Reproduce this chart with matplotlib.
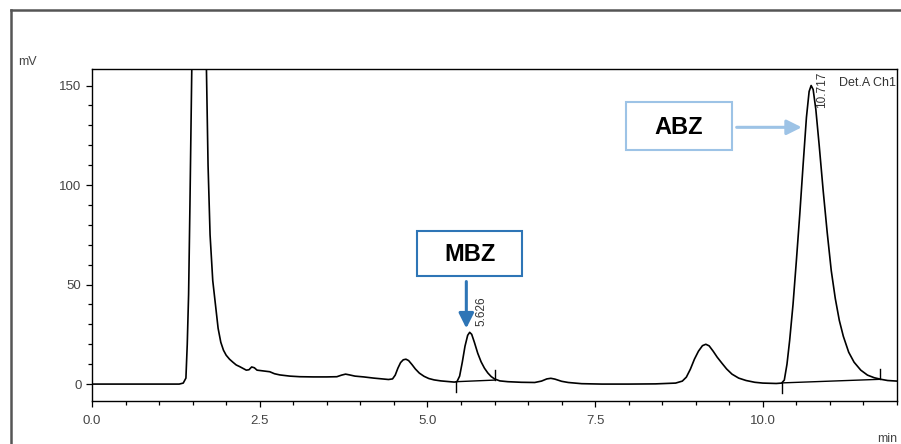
import matplotlib
matplotlib.use("Agg")
import matplotlib.pyplot as plt
from matplotlib.patches import Rectangle
from matplotlib.lines import Line2D
from matplotlib.ticker import MultipleLocator, FormatStrFormatter

plt.rcParams['font.family'] = ['Liberation Sans', 'DejaVu Sans']

# chromatogram trace (min, mV)
time = [0.00, 1.30, 1.36, 1.40, 1.42, 1.44, 1.46, 1.48, 1.50, 1.55, 1.60, 1.66,
        1.70, 1.73, 1.76, 1.80, 1.84, 1.88, 1.92, 1.96, 2.00, 2.05, 2.10, 2.15,
        2.20, 2.25, 2.30, 2.34, 2.38, 2.42, 2.46, 2.55, 2.65, 2.72, 2.80, 2.95,
        3.10, 3.30, 3.50, 3.65, 3.72, 3.78, 3.84, 3.92, 4.05, 4.20, 4.30, 4.42,
        4.48, 4.52, 4.56, 4.60, 4.64, 4.68, 4.72, 4.77, 4.82, 4.88, 4.95, 5.02,
        5.10, 5.20, 5.30, 5.40, 5.44, 5.48, 5.52, 5.56, 5.60, 5.63, 5.66, 5.70,
        5.75, 5.80, 5.85, 5.90, 5.95, 6.00, 6.08, 6.20, 6.40, 6.60, 6.70, 6.78,
        6.84, 6.90, 7.00, 7.10, 7.30, 7.60, 8.00, 8.40, 8.70, 8.80, 8.86, 8.92,
        8.98, 9.04, 9.10, 9.15, 9.20, 9.26, 9.32, 9.39, 9.46, 9.54, 9.64, 9.75,
        9.88, 10.00, 10.20, 10.28, 10.32, 10.36, 10.40, 10.45, 10.50, 10.55,
        10.60, 10.65, 10.69, 10.72, 10.75, 10.79, 10.84, 10.90, 10.96, 11.02,
        11.08, 11.14, 11.20, 11.28, 11.36, 11.46, 11.56, 11.66, 11.76, 11.86,
        12.00]
signal = [0, 0, 0.5, 3, 20, 45, 90, 140, 190, 300, 330, 280,
          170, 110, 75, 52, 40, 28, 21, 17, 14.5, 12.5, 11, 9.6,
          8.8, 7.9, 7.0, 7.2, 8.6, 8.2, 7.0, 6.6, 6.2, 5.2, 4.6, 4.0,
          3.7, 3.6, 3.6, 3.7, 4.5, 5.0, 4.6, 4.0, 3.6, 3.0, 2.7, 2.3,
          2.6, 4.5, 8, 10.8, 12.2, 12.5, 11.8, 9.8, 7.6, 5.5, 3.9, 2.8,
          2.1, 1.6, 1.3, 1.0, 1.2, 4, 11, 19, 24.5, 26, 25, 21,
          15.5, 11.2, 8.0, 5.6, 3.8, 2.6, 1.6, 1.2, 0.9, 0.8, 1.5, 2.6,
          2.9, 2.5, 1.4, 0.8, 0.2, 0, 0, 0.1, 0.5, 1.5, 3.5, 7.5,
          12.5, 16.5, 19.3, 20, 19.2, 16.5, 13.5, 10.5, 7.6, 5.0, 3.0, 1.8,
          0.9, 0.5, 0.3, 0.5, 2, 10, 22, 40, 62, 85,
          110, 134, 147, 150, 148, 138, 120, 97, 76, 57,
          43, 32, 24, 16, 11, 7, 4.5, 3.2, 2.4, 1.8,
          1.5]

# integration baselines: (t start, mV start, t end, mV end)
baselines = [(5.43, 1.2, 6.00, 2.0), (10.29, 0.6, 11.75, 2.4)]
peak_rt = [5.626, 10.717]
peak_mv = [26, 150]

fig = plt.figure(figsize=(9.01, 4.44), dpi=100)
ax = fig.add_axes([92/901, 1-401/444, 805/901, 332/444])

ax.plot(time, signal, color='black', lw=1.2)
for t0, y0, t1, y1 in baselines:
    ax.plot([t0, t1], [y0, y1], color='black', lw=1.0)
    ax.plot([t0, t0], [y0, y0 - 5], color='black', lw=1.0)
    ax.plot([t1, t1], [y1, y1 + 5], color='black', lw=1.0)

ax.set_xlim(0, 12)
ax.set_ylim(-8.5, 158.3)
ax.xaxis.set_major_locator(MultipleLocator(2.5))
ax.xaxis.set_minor_locator(MultipleLocator(0.5))
ax.xaxis.set_major_formatter(FormatStrFormatter('%.1f'))
ax.yaxis.set_major_locator(MultipleLocator(50))
ax.yaxis.set_minor_locator(MultipleLocator(10))
ax.tick_params(which='both', direction='out', labelsize=9.5, labelcolor='#444444',
               width=0.9)
ax.tick_params(which='major', length=4)
ax.tick_params(which='minor', length=3)
ax.tick_params(axis='x', pad=6)
for s in ax.spines.values():
    s.set_linewidth(1.0)

# peak labels
ax.text(peak_rt[0] + 0.09, peak_mv[0] + 3, '5.626', rotation=90, fontsize=8.5,
        color='#333333', ha='left', va='bottom')
ax.text(peak_rt[1] + 0.07, peak_mv[1] - 11.5, '10.717', rotation=90, fontsize=8.5,
        color='#333333', ha='left', va='bottom')
ax.text(11.98, 151.5, 'Det.A Ch1', fontsize=9, color='#333333', ha='right', va='center')

fig.text(18/901, 1-65/444, 'mV', fontsize=9, color='#444444', ha='left', va='baseline')
fig.text(897/901, 1-442/444, 'min', fontsize=9, color='#444444', ha='right', va='baseline')

# annotation boxes and arrows
fig.patches.append(Rectangle((417/901, 1-276/444), 105/901, 45/444, transform=fig.transFigure,
                             fill=False, edgecolor='#2e75b6', lw=1.5))
fig.text(469.5/901, 1-254/444, 'MBZ', fontsize=17, fontweight='bold', ha='center', va='center')
ax.annotate('', xy=(5.58, 28), xytext=(5.58, 51.5),
            arrowprops=dict(arrowstyle='-|>,head_width=0.45,head_length=0.9',
                            color='#2e75b6', lw=2.2, shrinkA=0, shrinkB=0))

fig.patches.append(Rectangle((626/901, 1-150/444), 106/901, 48/444, transform=fig.transFigure,
                             fill=False, edgecolor='#9dc3e6', lw=1.5))
fig.text(679/901, 1-127/444, 'ABZ', fontsize=17, fontweight='bold', ha='center', va='center')
ax.annotate('', xy=(10.58, 129), xytext=(9.61, 129),
            arrowprops=dict(arrowstyle='-|>,head_width=0.45,head_length=0.9',
                            color='#9dc3e6', lw=2.2, shrinkA=0, shrinkB=0))

# outer frame
fig.lines.append(Line2D([10.5/901, 10.5/901], [0, 1-10.5/444], transform=fig.transFigure,
                        color='#555555', lw=1.8))
fig.lines.append(Line2D([10.5/901, 1], [1-10.5/444, 1-10.5/444], transform=fig.transFigure,
                        color='#555555', lw=1.8))

fig.savefig('out.png', dpi=100)
